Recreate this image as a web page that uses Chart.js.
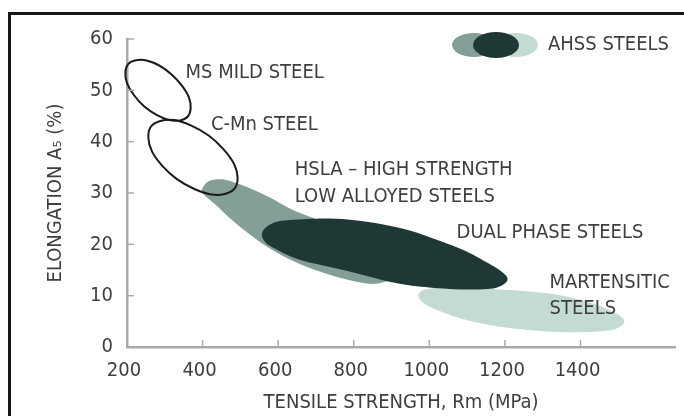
<!DOCTYPE html>
<html><head><meta charset="utf-8">
<script src="https://cdn.jsdelivr.net/npm/chart.js@4/dist/chart.umd.min.js"></script>
<style>html,body{margin:0;padding:0;background:#fff;}#wrap{width:684px;height:416px;}</style>
</head><body><div id="wrap"><canvas id="c" width="684" height="416"></canvas></div>
<script>
// ---- data (Tensile strength MPa, Elongation %) ----
const xTickValues = [200, 400, 600, 800, 1000, 1200, 1400];
const yTickValues = [0, 10, 20, 30, 40, 50, 60];
const xTitle = 'TENSILE STRENGTH, Rm (MPa)';
const yTitle = 'ELONGATION A\u2085 (%)';

// boundary points of each steel family region [MPa, %]
const mildSteel = [[361,44.9],[312,44.2],[245,46.9],[200,51.4],[203,55.1],[252,55.8],[318,53.1],[364,48.6]];
const cMnSteel = [[486,31.0],[424,29.7],[332,32.7],[266,38.1],[263,42.9],[325,44.2],[416,41.2],[483,35.7]];
const hslaSteel = [[401,31.1],[419,32.4],[459,32.6],[512,31.3],[573,29.3],[636,26.8],[705,24.8],[776,22.5],[842,19.3],[895,16.0],[908,13.7],[855,12.3],[784,13.1],[710,14.7],[644,16.6],[578,19.2],[525,21.9],[477,24.8],[433,27.8],[401,29.9]];
const dualPhase = [[557,22.1],[573,23.6],[610,24.6],[702,25.0],[789,24.8],[868,24.0],[948,22.7],[1027,20.7],[1093,18.8],[1154,16.4],[1191,14.7],[1207,13.3],[1194,12.1],[1154,11.3],[1053,11.3],[921,12.3],[789,14.7],[657,17.0],[591,19.2],[565,20.5]];
const martensitic = [[974,10.6],[1014,11.5],[1106,11.5],[1212,11.1],[1318,10.4],[1410,9.0],[1476,7.2],[1513,5.5],[1508,4.1],[1463,3.1],[1344,2.9],[1212,3.7],[1106,5.1],[1027,7.0],[980,8.8]];

const regionLabels = ['HSLA', 'MARTENSITIC', 'DUAL PHASE', 'MS MILD STEEL', 'C-Mn STEEL'];
// text annotations, anchored at [MPa, %] (left edge, vertical middle)
const noteTexts = ['MS MILD STEEL', 'C-Mn STEEL', 'HSLA \u2013 HIGH STRENGTH', 'LOW ALLOYED STEELS', 'DUAL PHASE STEELS', 'MARTENSITIC', 'STEELS'];
const noteX = [355, 422, 644, 644, 1072, 1318, 1318];
const noteY = [53.4, 43.2, 34.6, 29.3, 22.2, 12.6, 7.4];
const legendText = 'AHSS STEELS';

const FONT = "'DejaVu Sans Condensed', 'DejaVu Sans', sans-serif";
const TXT = '#3e3e3e';
const C_MED = '#849e98', C_DARK = '#1f3836', C_LIGHT = '#c4dbd4';

const toPts = arr => arr.map(p => ({x: p[0], y: p[1]}));

function closedSpline(ctx, pts) {
  const n = pts.length;
  ctx.beginPath();
  ctx.moveTo(pts[0].x, pts[0].y);
  for (let i = 0; i < n; i++) {
    const p0 = pts[(i - 1 + n) % n], p1 = pts[i], p2 = pts[(i + 1) % n], p3 = pts[(i + 2) % n];
    ctx.bezierCurveTo(p1.x + (p2.x - p0.x) / 6, p1.y + (p2.y - p0.y) / 6,
                      p2.x - (p3.x - p1.x) / 6, p2.y - (p3.y - p1.y) / 6, p2.x, p2.y);
  }
  ctx.closePath();
}

const regionPlugin = {
  id: 'regions',
  beforeDraw(chart) {
    const ctx = chart.ctx;
    ctx.save();
    ctx.fillStyle = '#fff';
    ctx.fillRect(0, 0, chart.width, chart.height);
    ctx.fillStyle = '#151515';
    ctx.fillRect(8, 12, 3, chart.height);
    ctx.fillRect(8, 12, chart.width, 3);
    ctx.restore();
  },
  beforeDatasetsDraw(chart) {
    const ctx = chart.ctx;
    chart.data.datasets.forEach((ds, i) => {
      const meta = chart.getDatasetMeta(i);
      const pts = meta.data.map(el => ({x: el.x, y: el.y}));
      ctx.save();
      closedSpline(ctx, pts);
      if (ds.regionFill) { ctx.fillStyle = ds.regionFill; ctx.fill(); }
      if (ds.regionStroke) { ctx.strokeStyle = ds.regionStroke; ctx.lineWidth = 2; ctx.stroke(); }
      ctx.restore();
    });
  },
  afterDraw(chart) {
    const ctx = chart.ctx;
    const xs = chart.scales.x, ys = chart.scales.y;
    ctx.save();
    // inner tick marks
    ctx.strokeStyle = '#a9a9a9';
    ctx.lineWidth = 1.5;
    xTickValues.forEach(v => {
      if (v === xs.min) return;
      const px = xs.getPixelForValue(v);
      ctx.beginPath(); ctx.moveTo(px, ys.bottom); ctx.lineTo(px, ys.bottom - 7); ctx.stroke();
    });
    yTickValues.forEach(v => {
      if (v === ys.min) return;
      const py = ys.getPixelForValue(v);
      ctx.beginPath(); ctx.moveTo(xs.left, py); ctx.lineTo(xs.left + 7, py); ctx.stroke();
    });
    // annotations
    ctx.fillStyle = TXT;
    ctx.font = '20px ' + FONT;
    ctx.textAlign = 'left';
    ctx.textBaseline = 'middle';
    noteTexts.forEach((t, i) => {
      ctx.fillText(t, xs.getPixelForValue(noteX[i]), ys.getPixelForValue(noteY[i]));
    });
    // legend
    const ell = (cx, cy, rx, ry, c) => { ctx.beginPath(); ctx.ellipse(cx, cy, rx, ry, 0, 0, Math.PI * 2); ctx.fillStyle = c; ctx.fill(); };
    ell(474, 45, 22, 12, C_MED);
    ell(516, 45, 22, 12, C_LIGHT);
    ell(496, 45, 23, 13, C_DARK);
    ctx.fillStyle = TXT;
    ctx.fillText(legendText, 548, 45);
    ctx.restore();
  }
};

const mk = (label, arr, fill, stroke) => ({
  label, data: toPts(arr), showLine: false, pointRadius: 0, pointHoverRadius: 0,
  regionFill: fill, regionStroke: stroke
});

new Chart(document.getElementById('c'), {
  type: 'scatter',
  data: {
    datasets: [
      mk(regionLabels[0], hslaSteel, C_MED, null),
      mk(regionLabels[1], martensitic, C_LIGHT, null),
      mk(regionLabels[2], dualPhase, C_DARK, null),
      mk(regionLabels[3], mildSteel, null, '#1a1a1a'),
      mk(regionLabels[4], cMnSteel, null, '#1a1a1a')
    ]
  },
  options: {
    responsive: false,
    animation: false,
    events: [],
    layout: {padding: {top: 39, right: 9, left: 0, bottom: 0}},
    plugins: {legend: {display: false}, tooltip: {enabled: false}},
    scales: {
      x: {
        type: 'linear', min: 200, max: 1650,
        afterBuildTicks: s => { s.ticks = xTickValues.map(v => ({value: v})); },
        afterFit: s => { s.height = 69; },
        grid: {display: false, drawTicks: false},
        border: {display: true, color: '#a9a9a9', width: 2.5},
        ticks: {padding: 12, labelOffset: -3, maxRotation: 0, autoSkip: false, color: TXT,
                font: {family: FONT, size: 20}, callback: v => String(v)},
        title: {display: true, text: xTitle, color: TXT, font: {family: FONT, size: 20}, padding: {top: 0, bottom: 1}}
      },
      y: {
        type: 'linear', min: 0, max: 60,
        afterBuildTicks: s => { s.ticks = yTickValues.map(v => ({value: v})); },
        afterFit: s => { s.width = 127; },
        grid: {display: false, drawTicks: false},
        border: {display: true, color: '#a9a9a9', width: 2.5},
        ticks: {padding: 14, color: TXT, font: {family: FONT, size: 20}, callback: v => String(v)},
        title: {display: true, text: yTitle, color: TXT, font: {family: FONT, size: 20}, padding: {top: 44, bottom: 0}}
      }
    }
  },
  plugins: [regionPlugin]
});
</script>
</body></html>
